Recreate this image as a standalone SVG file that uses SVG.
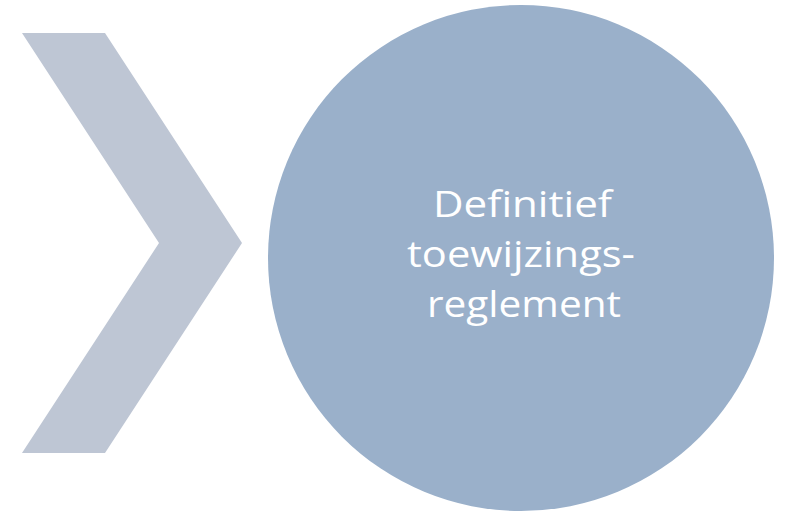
<svg xmlns="http://www.w3.org/2000/svg" width="785" height="513" viewBox="0 0 785 513">
<style>
.lbl{font-family:"Open Sans",Lato,"Liberation Sans",sans-serif;font-size:37px;fill:#FFFFFF;text-anchor:middle;font-variant-ligatures:none}
</style>
<rect width="785" height="513" fill="#FFFFFF"/>
<g id="chevron">
<polygon points="22,33 105,33 242,243 105,453 22,453 159,243" fill="#BEC6D4"/>
</g>
<g id="circle-node">
<circle cx="521" cy="258" r="253" fill="#9AB0CA"/>
<text class="lbl" x="522.5" y="217" textLength="179" lengthAdjust="spacingAndGlyphs">Definitief</text>
<text class="lbl" x="521" y="267" textLength="228" lengthAdjust="spacingAndGlyphs">toewijzings-</text>
<text class="lbl" x="524" y="317" textLength="194" lengthAdjust="spacingAndGlyphs">reglement</text>
</g>
</svg>
